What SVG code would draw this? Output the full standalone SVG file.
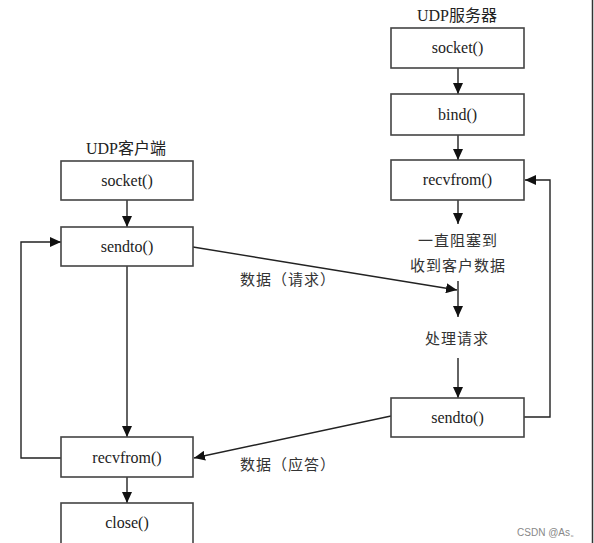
<svg xmlns="http://www.w3.org/2000/svg" width="594" height="543" viewBox="0 0 594 543">
<defs>
<marker id="ah" markerUnits="userSpaceOnUse" markerWidth="12" markerHeight="10" refX="11" refY="5" orient="auto">
<path d="M0,0 L11,5 L0,10 Z" fill="#111"/>
</marker>
<style>
.box{fill:#fff;stroke:#444;stroke-width:1.6}
.t{font-family:"Liberation Serif","Noto Sans CJK SC",serif;font-size:16px;fill:#222;text-anchor:middle}
.c{font-family:"Liberation Serif","Noto Sans CJK SC",serif;font-size:15px;fill:#333;text-anchor:middle;letter-spacing:1px}
.e{fill:none;stroke:#222;stroke-width:1.4}
</style>
</defs>
<rect width="594" height="543" fill="#fff"/>
<line x1="592.5" y1="0" x2="592.5" y2="543" stroke="#333" stroke-width="1.5"/>

<g id="connectors">
<line class="e" x1="458" y1="68" x2="458" y2="94" marker-end="url(#ah)"/>
<line class="e" x1="458" y1="135" x2="458" y2="160" marker-end="url(#ah)"/>
<line class="e" x1="458" y1="200" x2="458" y2="224" marker-end="url(#ah)"/>
<line class="e" x1="458" y1="281" x2="458" y2="317" marker-end="url(#ah)"/>
<line class="e" x1="458" y1="358" x2="458" y2="398" marker-end="url(#ah)"/>
<polyline class="e" points="524,417 550,417 550,180 525,180" marker-end="url(#ah)"/>
<line class="e" x1="127" y1="200" x2="127" y2="227" marker-end="url(#ah)"/>
<line class="e" x1="127" y1="266" x2="127" y2="437" marker-end="url(#ah)"/>
<line class="e" x1="127" y1="477" x2="127" y2="503" marker-end="url(#ah)"/>
<polyline class="e" points="61,458 21,458 21,242 61,242" marker-end="url(#ah)"/>
<line class="e" x1="193" y1="247" x2="457" y2="290" marker-end="url(#ah)"/>
<line class="e" x1="391" y1="416" x2="194" y2="458" marker-end="url(#ah)"/>
<text class="c" x="288" y="285">数据（请求）</text>
<text class="c" x="288" y="470">数据（应答）</text>
</g>

<g id="server-title"><text class="t" x="457" y="21">UDP服务器</text></g>
<g id="s-socket"><rect class="box" x="391" y="28" width="133" height="40"/><text class="t" x="457.5" y="53">socket()</text></g>
<g id="s-bind"><rect class="box" x="391" y="94" width="133" height="41"/><text class="t" x="457.5" y="120">bind()</text></g>
<g id="s-recvfrom"><rect class="box" x="391" y="160" width="133" height="40"/><text class="t" x="457.5" y="185">recvfrom()</text></g>
<g id="s-block"><text class="c" x="458" y="246">一直阻塞到</text><text class="c" x="458" y="271">收到客户数据</text></g>
<g id="s-process"><text class="c" x="457" y="344">处理请求</text></g>
<g id="s-sendto"><rect class="box" x="391" y="398" width="133" height="39"/><text class="t" x="457.5" y="423">sendto()</text></g>

<g id="client-title"><text class="t" x="126" y="154">UDP客户端</text></g>
<g id="c-socket"><rect class="box" x="61" y="161" width="132" height="39"/><text class="t" x="127" y="186">socket()</text></g>
<g id="c-sendto"><rect class="box" x="61" y="227" width="132" height="39"/><text class="t" x="127" y="252">sendto()</text></g>
<g id="c-recvfrom"><rect class="box" x="61" y="437" width="132" height="40"/><text class="t" x="127" y="463">recvfrom()</text></g>
<g id="c-close"><rect class="box" x="61" y="503" width="132" height="44"/><text class="t" x="127" y="528">close()</text></g>

<text x="580" y="536" font-family="Liberation Sans, sans-serif" font-size="10" fill="#888" text-anchor="end">CSDN @As。</text>
</svg>
